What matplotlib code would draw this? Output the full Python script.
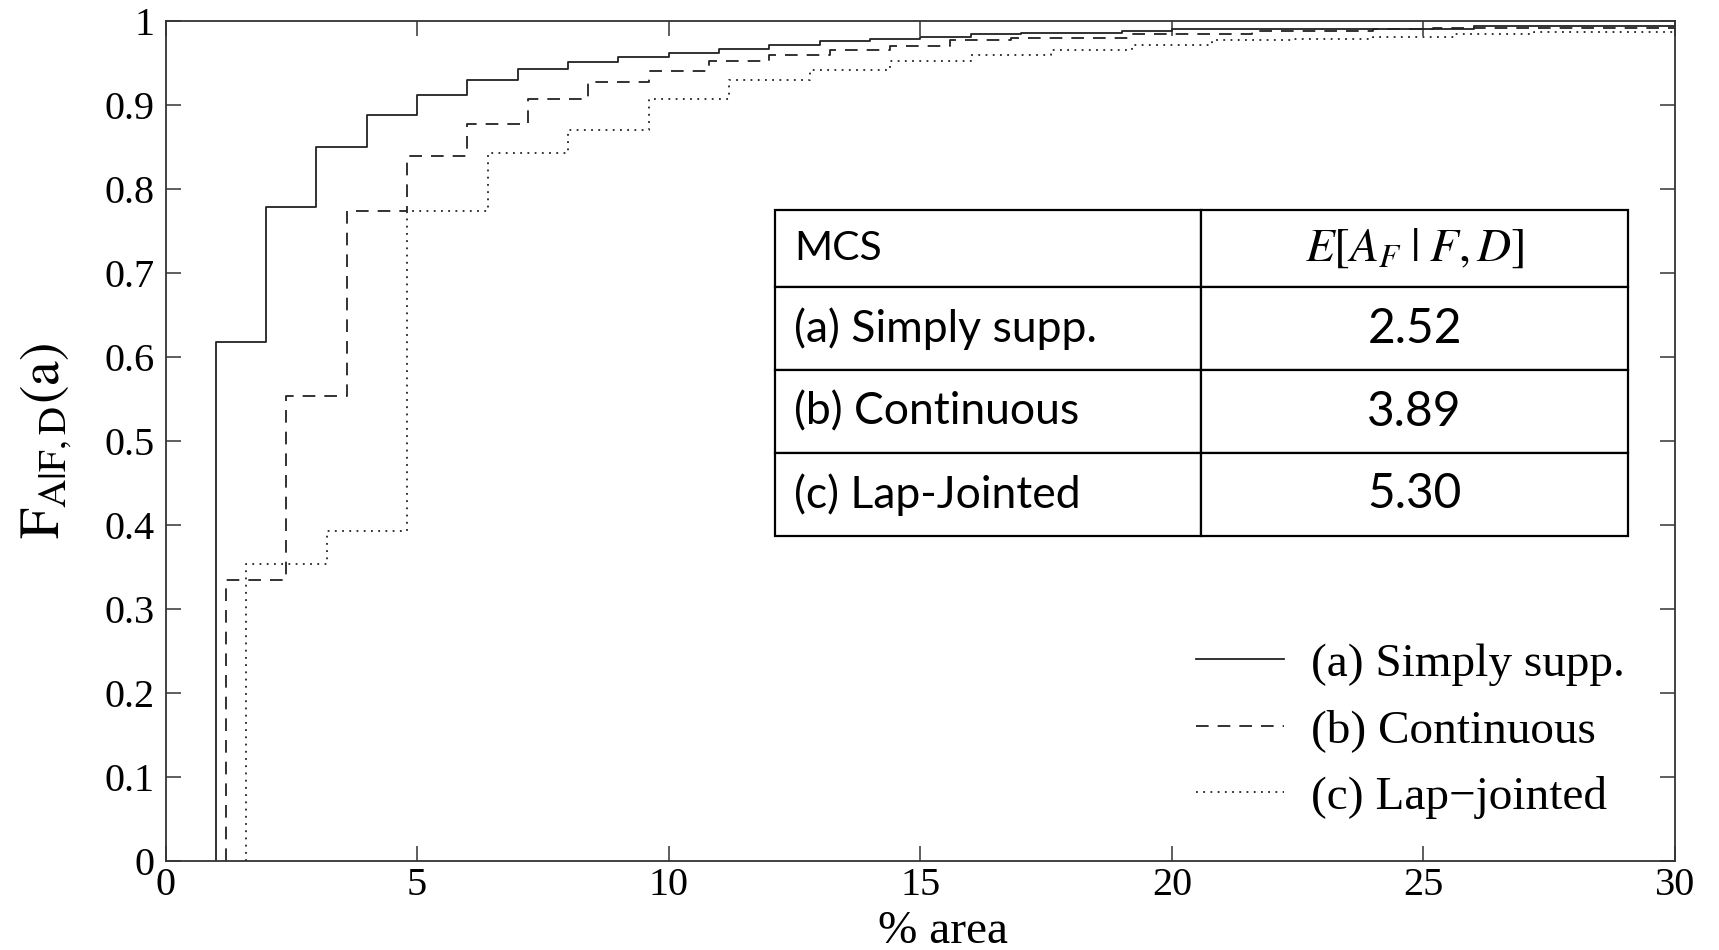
import matplotlib.pyplot as plt
from matplotlib.table import Table

plt.rcParams['font.family'] = ['Liberation Serif', 'DejaVu Serif']
plt.rcParams['mathtext.fontset'] = 'stix'

# step positions (% area) and CDF values
a_x = [1, 1, 2, 3, 4, 5, 6, 7, 8, 9, 10, 11, 12, 13, 14, 15, 16, 17, 19, 20, 24, 26, 30]
a_y = [0, 0.618, 0.778, 0.850, 0.888, 0.912, 0.930, 0.943, 0.951, 0.957, 0.962, 0.967,
       0.972, 0.976, 0.979, 0.981, 0.984, 0.986, 0.988, 0.990, 0.991, 0.994, 0.994]

b_x = [1.2, 1.2, 2.4, 3.6, 4.8, 6.0, 7.2, 8.4, 9.6, 10.8, 12.0, 13.2, 14.4, 15.6, 16.8,
       19.2, 21.6, 24.0, 25.2, 30]
b_y = [0, 0.335, 0.554, 0.774, 0.839, 0.877, 0.907, 0.927, 0.941, 0.952, 0.960, 0.966,
       0.970, 0.977, 0.980, 0.984, 0.988, 0.990, 0.992, 0.992]

c_x = [1.6, 1.6, 3.2, 4.8, 6.4, 8.0, 9.6, 11.2, 12.8, 14.4, 16.0, 17.6, 19.2, 20.8, 22.4,
       24.0, 25.6, 27.2, 30]
c_y = [0, 0.354, 0.393, 0.774, 0.843, 0.870, 0.907, 0.930, 0.942, 0.952, 0.960, 0.966,
       0.971, 0.977, 0.979, 0.981, 0.985, 0.987, 0.987]

labels = ['(a) Simply supp.', '(b) Continuous', '(c) Lap\u2212jointed']

# inset table
table_header = ['MCS', r'$E\left[A_F\;|\;F,D\right]$']
table_rows = ['(a) Simply supp.', '(b) Continuous', '(c) Lap-Jointed']
table_vals = ['2.52', '3.89', '5.30']

fig = plt.figure(figsize=(17.19, 9.5), dpi=100)
ax = fig.add_axes([0.0963, 0.0937, 0.9744 - 0.0963, 0.9779 - 0.0937])

col = '#222222'
ax.step(a_x, a_y, where='post', color=col, lw=1.3, label=labels[0])
ax.step(b_x, b_y, where='post', color=col, lw=1.3, dashes=(7, 5), label=labels[1])
ax.step(c_x, c_y, where='post', color=col, lw=1.3, dashes=(1, 3), label=labels[2])

ax.set_xlim(0, 30)
ax.set_ylim(0, 1)
ax.set_xticks([0, 5, 10, 15, 20, 25, 30])
ax.set_yticks([0, 0.1, 0.2, 0.3, 0.4, 0.5, 0.6, 0.7, 0.8, 0.9, 1])
ax.set_yticklabels(['0', '0.1', '0.2', '0.3', '0.4', '0.5', '0.6', '0.7', '0.8', '0.9', '1'])
ax.tick_params(direction='in', length=11, width=1.1, color='#333333',
               top=True, right=True, labelsize=29, pad=8)
ax.tick_params(axis='x', labelsize=29, pad=4)
for s in ax.spines.values():
    s.set_color('#333333')
    s.set_linewidth(1.3)

ax.set_xlabel('% area', fontsize=34, labelpad=5, x=0.515)
ax.set_ylabel(r'$\mathrm{F_{A|F,D}(a)}$', fontsize=40, labelpad=22)

leg = ax.legend(loc='lower right', bbox_to_anchor=(0.967, 0.05), frameon=False,
                fontsize=34, handlelength=1.86, handletextpad=0.58, labelspacing=0.5,
                borderpad=0, borderaxespad=0)

# inset table drawn as a matplotlib Table
tab = Table(ax, bbox=[0.4038, 0.387, 0.565, 0.388])
rows = [table_header] + [[r, v] for r, v in zip(table_rows, table_vals)]
for i, (left, right) in enumerate(rows):
    h = 0.93 if i == 0 else 1.0
    c1 = tab.add_cell(i, 0, 0.5, h, text=left, loc='left')
    c2 = tab.add_cell(i, 1, 0.5, h, text=right, loc='center')
    c1.PAD = 0.045
    for c in (c1, c2):
        c.set_linewidth(1.6)
        c.set_edgecolor('black')
    c1.get_text().set_fontfamily(['Lato', 'DejaVu Sans'])
    if i == 0:
        c1.get_text().set_fontsize(29.5)
        c2.get_text().set_fontsize(34)
    else:
        c1.get_text().set_fontsize(32)
        c2.get_text().set_fontfamily(['Lato', 'DejaVu Sans'])
        c2.get_text().set_fontsize(34.5)
tab.auto_set_font_size(False)
ax.add_table(tab)

fig.savefig('out.png', dpi=100)
